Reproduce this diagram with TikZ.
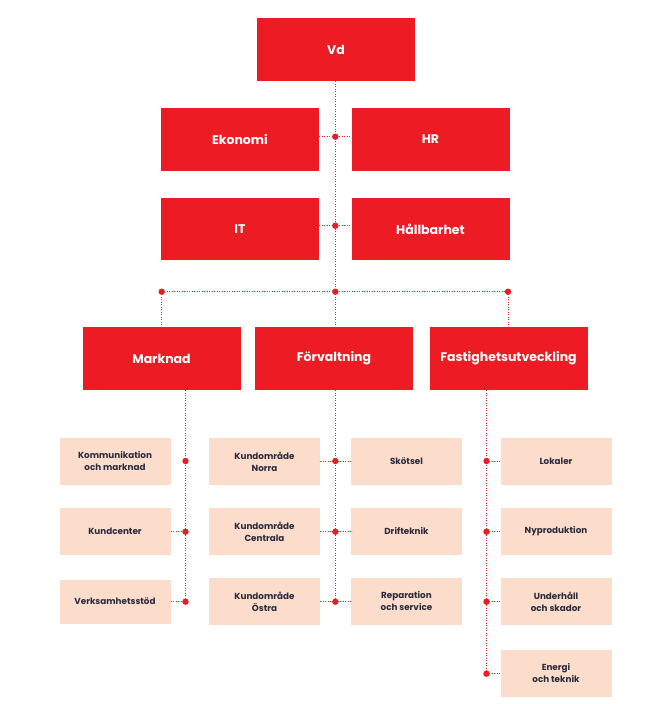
\documentclass[tikz,border=0pt]{standalone}
\usepackage{fontspec}
\setmainfont{Poppins}
\definecolor{orgred}{HTML}{ED1C24}
\definecolor{peach}{HTML}{FCDDCC}
\definecolor{navy}{HTML}{2B2A3C}
\begin{document}
\begin{tikzpicture}[x=1pt,y=-1pt,
  redbox/.style={fill=orgred,draw=none,minimum width=158pt,minimum height=63pt,inner sep=0pt,
    text=white,font=\fontsize{12.5}{14}\selectfont\bfseries,align=center},
  lightbox/.style={fill=peach,draw=none,minimum width=111pt,minimum height=47pt,inner sep=0pt,
    text=navy,font=\fontsize{8.8}{12}\selectfont\bfseries,align=center},
  dotline/.style={draw=orgred,line width=0.9pt,dash pattern=on 0.9pt off 1.6pt},
  jdot/.style={fill=orgred,draw=none}
]
\useasboundingbox (0,0) rectangle (669,704);
% red boxes
\node[redbox] (vd) at (336,49.5) {Vd};
\node[redbox] (eko) at (240,139.5) {Ekonomi};
\node[redbox] (hr) at (430.5,139.5) {HR};
\node[redbox,minimum height=62pt] (it) at (240,229) {IT};
\node[redbox,minimum height=62pt] (hall) at (430.5,229) {Hållbarhet};
\node[redbox] (mark) at (161.5,358.5) {Marknad};
\node[redbox] (forv) at (334,358.5) {Förvaltning};
\node[redbox] (fast) at (508.5,358.5) {Fastighetsutveckling};
% light boxes
\node[lightbox] (komm) at (115,461.5) {Kommunikation\\och marknad};
\node[lightbox] (kund) at (115,531.5) {Kundcenter};
\node[lightbox,minimum height=44pt] (verk) at (115,601.5) {Verksamhetsstöd};
\node[lightbox] (norra) at (264.5,461.5) {Kundområde\\Norra};
\node[lightbox] (centr) at (264.5,531.5) {Kundområde\\Centrala};
\node[lightbox] (ostra) at (264.5,601.5) {Kundområde\\Östra};
\node[lightbox] (skot) at (406.5,461.5) {Skötsel};
\node[lightbox] (drift) at (406.5,531.5) {Drifteknik};
\node[lightbox] (rep) at (406.5,601.5) {Reparation\\och service};
\node[lightbox] (lok) at (556,461.5) {Lokaler};
\node[lightbox] (nyp) at (556,531.5) {Nyproduktion};
\node[lightbox] (unde) at (556,601.5) {Underhåll\\och skador};
\node[lightbox] (ener) at (556,673.5) {Energi\\och teknik};
% junction coordinates
\coordinate (j1) at (335.3,136.7);
\coordinate (j2) at (335.3,225.7);
\coordinate (bl) at (161.7,291.7);
\coordinate (bc) at (335.3,291.7);
\coordinate (br) at (508,291.7);
\coordinate (m1) at (185.5,461);
\coordinate (m2) at (185.5,531.7);
\coordinate (m3) at (185.5,601.7);
\coordinate (f1) at (335.3,461);
\coordinate (f2) at (335.3,531.7);
\coordinate (f3) at (335.3,601.7);
\coordinate (g1) at (486.5,461);
\coordinate (g2) at (486.5,531.7);
\coordinate (g3) at (486.5,601.7);
\coordinate (g4) at (486.5,673.7);
% connectors
\draw[dotline] (vd.south -| bc) -- (bc);
\draw[dotline] (eko.east |- j1) -- (hr.west |- j1);
\draw[dotline] (it.east |- j2) -- (hall.west |- j2);
\draw[dotline] (bl) -- (br);
\draw[dotline] (bl) -- (mark.north -| bl);
\draw[dotline] (br) -- (fast.north -| br);
\draw[dotline] (bc) -- (forv.north -| bc);
\draw[dotline] (mark.south -| m1) -- (m3);
\draw[dotline] (kund.east |- m2) -- (m2);
\draw[dotline] (verk.east |- m3) -- (m3);
\draw[dotline] (forv.south -| f1) -- (f3);
\draw[dotline] (norra.east |- f1) -- (skot.west |- f1);
\draw[dotline] (centr.east |- f2) -- (drift.west |- f2);
\draw[dotline] (ostra.east |- f3) -- (rep.west |- f3);
\draw[dotline] (fast.south -| g1) -- (g4);
\draw[dotline] (g1) -- (lok.west |- g1);
\draw[dotline] (g2) -- (nyp.west |- g2);
\draw[dotline] (g3) -- (unde.west |- g3);
\draw[dotline] (g4) -- (ener.west |- g4);
% dots
\foreach \p in {j1,j2,bl,bc,br,m1,m2,m3,f1,f2,f3,g1,g2,g3,g4}
  \fill[jdot] (\p) circle (3.2pt);
\end{tikzpicture}
\end{document}
